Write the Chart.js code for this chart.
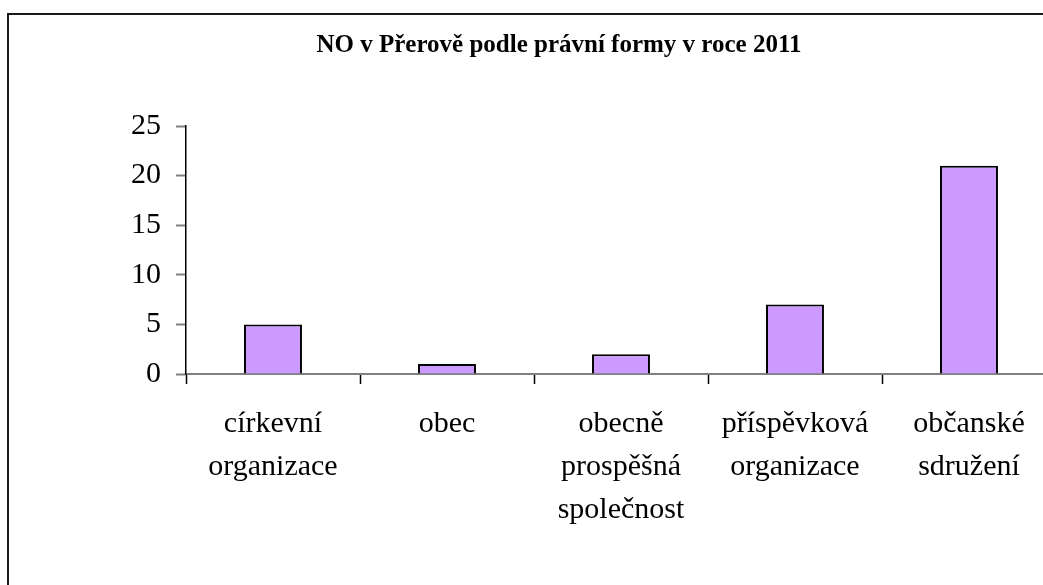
<!DOCTYPE html>
<html>
<head>
<meta charset="utf-8">
<title>NO v Přerově</title>
<script src="https://cdn.jsdelivr.net/npm/chart.js@4.4.1/dist/chart.umd.min.js"></script>
<style>
    body { margin: 0; overflow: hidden; background: #fff; }
    #frame { position: absolute; left: 7px; top: 13px; width: 1100px; height: 620px; border: 2px solid #1a1a1a; }
</style>
</head>
<body>
<div id="frame">
    <canvas id="chart" width="1100" height="620"></canvas>
</div>
<script>
    // data
    const title = 'NO v Přerově podle právní formy v roce 2011';
    const categories = [
        ['církevní', 'organizace'],
        ['obec'],
        ['obecně', 'prospěšná', 'společnost'],
        ['příspěvková', 'organizace'],
        ['občanské', 'sdružení']
    ];
    const counts = [5, 1, 2, 7, 21];
    const yTicks = [0, 5, 10, 15, 20, 25];

    const serif = '"Liberation Serif", "Times New Roman", serif';

    new Chart('chart', {
        type: 'bar',
        data: {
            labels: categories,
            datasets: [{
                data: counts,
                backgroundColor: '#cc99ff',
                borderColor: '#000',
                borderWidth: 2,
                categoryPercentage: 1,
                barPercentage: 0.333
            }]
        },
        options: {
            responsive: false,
            devicePixelRatio: 1,
            animation: false,
            // equal side padding keeps the title centred on the whole frame
            layout: { padding: { left: 53, right: 53, top: 0, bottom: 61 } },
            plugins: {
                legend: { display: false },
                tooltip: { enabled: false },
                title: {
                    display: true,
                    text: title,
                    color: '#000',
                    font: { family: serif, size: 25, weight: 'bold', lineHeight: 1.2 },
                    padding: { top: 16, bottom: 65 }
                }
            },
            scales: {
                x: {
                    grid: { offset: true, drawOnChartArea: false, drawTicks: true, tickLength: 10, tickColor: '#000', tickWidth: 1.5 },
                    border: { color: '#808080', width: 2 },
                    ticks: { color: '#000', padding: 19, maxRotation: 0, autoSkip: false,
                             font: { family: serif, size: 30, lineHeight: 1.43 } },
                    afterFit: s => { s.height = 200; }
                },
                y: {
                    min: 0,
                    max: 25,
                    afterBuildTicks: s => { s.ticks = yTicks.map(v => ({ value: v })); },
                    grid: { drawOnChartArea: false, drawTicks: true, tickLength: 10, tickColor: '#808080', tickWidth: 2 },
                    border: { color: '#000', width: 1.5 },
                    ticks: { color: '#000', padding: 15, font: { family: serif, size: 30 } },
                    afterFit: s => { s.width = 124; }
                }
            }
        }
    });
</script>
</body>
</html>
